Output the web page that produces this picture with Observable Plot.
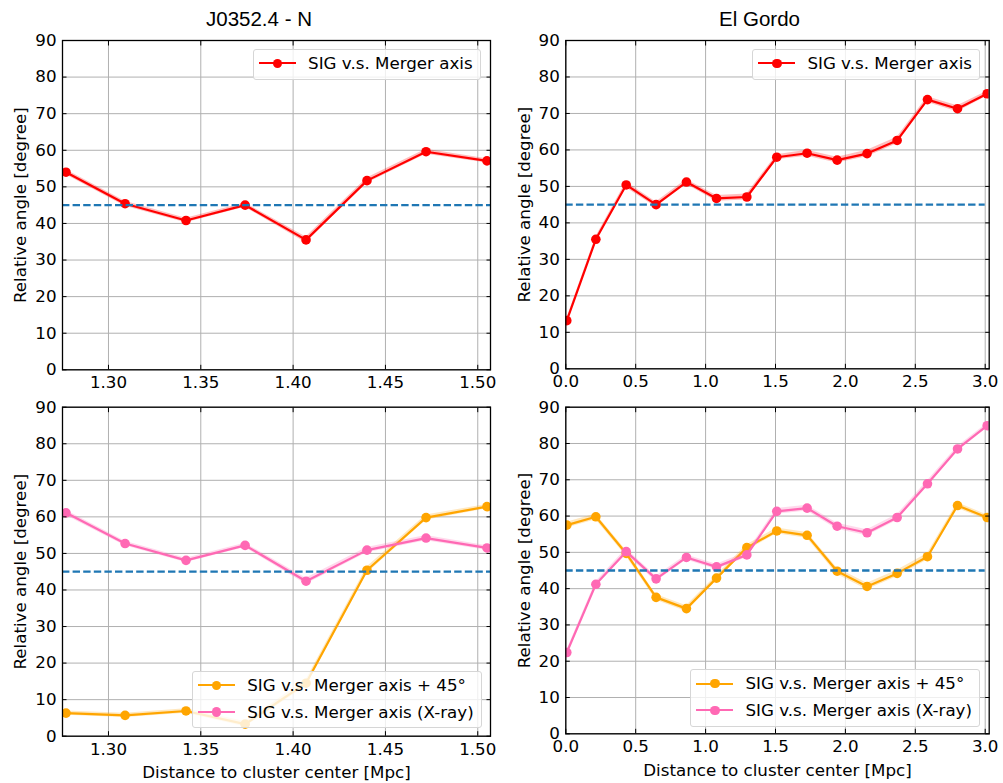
<!DOCTYPE html>
<html><head><meta charset="utf-8">
<script src="https://cdn.jsdelivr.net/npm/d3@7"></script>
<script src="https://cdn.jsdelivr.net/npm/@observablehq/plot@0.6"></script>
<style>
body{margin:0;background:#fff;}
#fig{position:relative;width:1003px;height:783px;overflow:hidden;background:#fff;font-family:"DejaVu Sans";}
.panel{position:absolute;}
.title{position:absolute;font-family:"Liberation Sans",Arial,sans-serif;font-size:20.5px;line-height:20.5px;transform:translateX(-50%);white-space:nowrap;color:#000;}
.legend{position:absolute;background:rgba(255,255,255,0.8);border:1px solid #d6d6d6;border-radius:3px;padding:0 0 2px 0;}
.row{position:relative;height:26.7px;line-height:26.7px;padding-left:54px;padding-right:7px;font-size:16.7px;white-space:nowrap;color:#000;}
.row .ln{position:absolute;left:5px;width:37px;height:2.2px;top:12.3px;}
.row .mk{position:absolute;left:18.7px;top:8.6px;width:9.6px;height:9.6px;border-radius:50%;}
</style></head>
<body><div id="fig"></div>
<script>
// ---------------- data ----------------
const refAngle = 45;
const yTicks = [0, 10, 20, 30, 40, 50, 60, 70, 80, 90];

// J0352.4 - N
const jDist = [1.277, 1.309, 1.342, 1.374, 1.407, 1.440, 1.472, 1.505];
const jSig = [54.0, 45.4, 40.8, 45.0, 35.5, 51.7, 59.6, 57.1];
const jSigErr = [0.7, 0.7, 0.6, 0.6, 0.8, 0.7, 0.7, 0.6];
const jPlus45 = [6.3, 5.7, 6.9, 3.3, 14.5, 45.4, 59.8, 62.8];
const jPlus45Err = [0.6, 0.6, 0.6, 0.7, 0.9, 0.9, 0.7, 0.6];
const jXray = [61.1, 52.7, 48.1, 52.2, 42.4, 50.9, 54.2, 51.5];
const jXrayErr = [0.7, 0.6, 0.6, 0.6, 0.8, 0.7, 0.7, 0.6];
const jXTicks = [1.30, 1.35, 1.40, 1.45, 1.50];
const jXDomain = [1.2751, 1.5069];

// El Gordo
const gDist = [0.007, 0.215, 0.432, 0.646, 0.863, 1.078, 1.295, 1.509, 1.726, 1.941, 2.155, 2.370, 2.587, 2.802, 3.014];
const gSig = [13.2, 35.5, 50.4, 45.0, 51.2, 46.7, 47.1, 58.0, 59.1, 57.2, 59.0, 62.6, 73.8, 71.3, 75.4];
const gSigErr = [0.6, 0.7, 0.8, 0.7, 0.7, 0.8, 0.8, 0.7, 0.8, 0.8, 0.9, 0.9, 0.8, 0.8, 0.7];
const gPlus45 = [57.5, 59.8, 49.7, 37.6, 34.5, 42.9, 51.3, 55.9, 54.7, 44.8, 40.6, 44.2, 48.8, 62.9, 59.6];
const gPlus45Err = [0.8, 0.8, 0.8, 0.8, 0.8, 0.7, 0.8, 0.8, 0.8, 0.9, 0.9, 0.9, 0.9, 0.8, 0.7];
const gXray = [22.4, 41.2, 50.2, 42.7, 48.6, 46.0, 49.3, 61.3, 62.2, 57.2, 55.4, 59.6, 68.9, 78.5, 84.9];
const gXrayErr = [0.6, 0.7, 0.8, 0.7, 0.7, 0.7, 0.7, 0.8, 0.8, 0.8, 0.8, 0.8, 0.8, 0.7, 0.6];
const gXTicks = [0.0, 0.5, 1.0, 1.5, 2.0, 2.5, 3.0];
const gXDomain = [0, 3.0286];
const gRefRange = [0, 3.0];

const titles = ["J0352.4 - N", "El Gordo"];
const yLabel = "Relative angle [degree]";
const xLabel = "Distance to cluster center [Mpc]";
const lblSig = "SIG v.s. Merger axis";
const lblPlus45 = "SIG v.s. Merger axis + 45\u00B0";
const lblXray = "SIG v.s. Merger axis (X-ray)";

const cRed = "#ff0000", cOrange = "#ffa500", cPink = "#ff69b4", cRef = "#1f77b4";

// ---------------- drawing ----------------
const fig = document.getElementById("fig");

function panel(o) {
  const marks = [
    Plot.gridX(o.xTicks, {stroke: "#b0b0b0", strokeOpacity: 1, strokeWidth: 1}),
    Plot.gridY(yTicks, {stroke: "#b0b0b0", strokeOpacity: 1, strokeWidth: 1})
  ];
  for (const s of o.series) {
    const data = o.x.map((xv, i) => ({x: xv, y: s.values[i], lo: s.values[i] - s.err[i], hi: s.values[i] + s.err[i]}));
    marks.push(Plot.areaY(data, {x: "x", y1: "lo", y2: "hi", fill: s.color, fillOpacity: 0.25, clip: true}));
    marks.push(Plot.line(data, {x: "x", y: "y", stroke: s.color, strokeWidth: 2.2, clip: true}));
    marks.push(Plot.dot(data, {x: "x", y: "y", r: 4.8, fill: s.color, stroke: "none", clip: true}));
  }
  marks.push(o.refRange
    ? Plot.ruleY([refAngle], {x1: o.refRange[0], x2: o.refRange[1], stroke: cRef, strokeWidth: 2.3, strokeDasharray: "7.4,3.2", clip: true})
    : Plot.ruleY([refAngle], {stroke: cRef, strokeWidth: 2.3, strokeDasharray: "7.4,3.2"}));
  marks.push(
    Plot.axisX(o.xTicks, {anchor: "bottom", tickSize: -4.5, tickPadding: 11, tickFormat: o.xFmt,
      label: o.showXLabel ? xLabel : null, labelAnchor: "center", labelArrow: "none", labelOffset: 42}),
    Plot.axisX(o.xTicks, {anchor: "top", tickSize: -4.5, tickFormat: () => "", label: null}),
    Plot.axisY(yTicks, {anchor: "left", tickSize: -4.5, tickPadding: 10.5, tickFormat: d => String(d),
      label: yLabel, labelAnchor: "center", labelArrow: "none", labelOffset: 48}),
    Plot.axisY(yTicks, {anchor: "right", tickSize: -4.5, tickFormat: () => "", label: null}),
    Plot.frame({stroke: "#000", strokeWidth: 1.3})
  );
  const svg = Plot.plot({
    width: o.w, height: o.h,
    marginLeft: o.m[0], marginRight: o.m[1], marginTop: o.m[2], marginBottom: o.m[3],
    x: {type: "linear", domain: o.xDomain},
    y: {type: "linear", domain: [0, 90]},
    style: {fontFamily: "DejaVu Sans", fontSize: "16.7px", color: "#000", background: "transparent", overflow: "visible"},
    marks
  });
  svg.classList.add("panel");
  svg.style.left = o.left + "px";
  svg.style.top = o.top + "px";
  fig.appendChild(svg);
}

const fmt2 = d3.format(".2f"), fmt1 = d3.format(".1f");

panel({left: 0, top: 0, w: 500, h: 390, m: [62, 10, 40, 20.7], x: jDist, xDomain: jXDomain, xTicks: jXTicks, xFmt: fmt2,
  series: [{values: jSig, err: jSigErr, color: cRed}], showXLabel: false});
panel({left: 500, top: 0, w: 503, h: 390, m: [65.3, 14.3, 40, 21.7], x: gDist, xDomain: gXDomain, xTicks: gXTicks, xFmt: fmt1,
  series: [{values: gSig, err: gSigErr, color: cRed}], refRange: gRefRange, showXLabel: false});
panel({left: 0, top: 390, w: 500, h: 393, m: [62, 10, 16.7, 47.3], x: jDist, xDomain: jXDomain, xTicks: jXTicks, xFmt: fmt2,
  series: [{values: jPlus45, err: jPlus45Err, color: cOrange}, {values: jXray, err: jXrayErr, color: cPink}], showXLabel: true});
panel({left: 500, top: 390, w: 503, h: 393, m: [65.3, 14.3, 16.7, 49.7], x: gDist, xDomain: gXDomain, xTicks: gXTicks, xFmt: fmt1,
  series: [{values: gPlus45, err: gPlus45Err, color: cOrange}, {values: gXray, err: gXrayErr, color: cPink}], refRange: gRefRange, showXLabel: true});

// titles
[[titles[0], 259], [titles[1], 759.5]].forEach(([t, cx]) => {
  const d = document.createElement("div");
  d.className = "title"; d.textContent = t;
  d.style.left = cx + "px"; d.style.top = "8.7px";
  fig.appendChild(d);
});

// legends
function legend(entries, pos) {
  const box = document.createElement("div");
  box.className = "legend";
  Object.entries(pos).forEach(([k, v]) => box.style[k] = v + "px");
  entries.forEach(([label, color]) => {
    const r = document.createElement("div"); r.className = "row";
    const ln = document.createElement("span"); ln.className = "ln"; ln.style.background = color;
    const mk = document.createElement("span"); mk.className = "mk"; mk.style.background = color;
    r.appendChild(ln); r.appendChild(mk); r.appendChild(document.createTextNode(label));
    box.appendChild(r);
  });
  fig.appendChild(box);
}
legend([[lblSig, cRed]], {right: 1003 - 480.7, top: 49});
legend([[lblSig, cRed]], {right: 1003 - 980, top: 49});
legend([[lblPlus45, cOrange], [lblXray, cPink]], {right: 1003 - 481.7, top: 671});
legend([[lblPlus45, cOrange], [lblXray, cPink]], {right: 1003 - 980, top: 669.3});
</script></body></html>
